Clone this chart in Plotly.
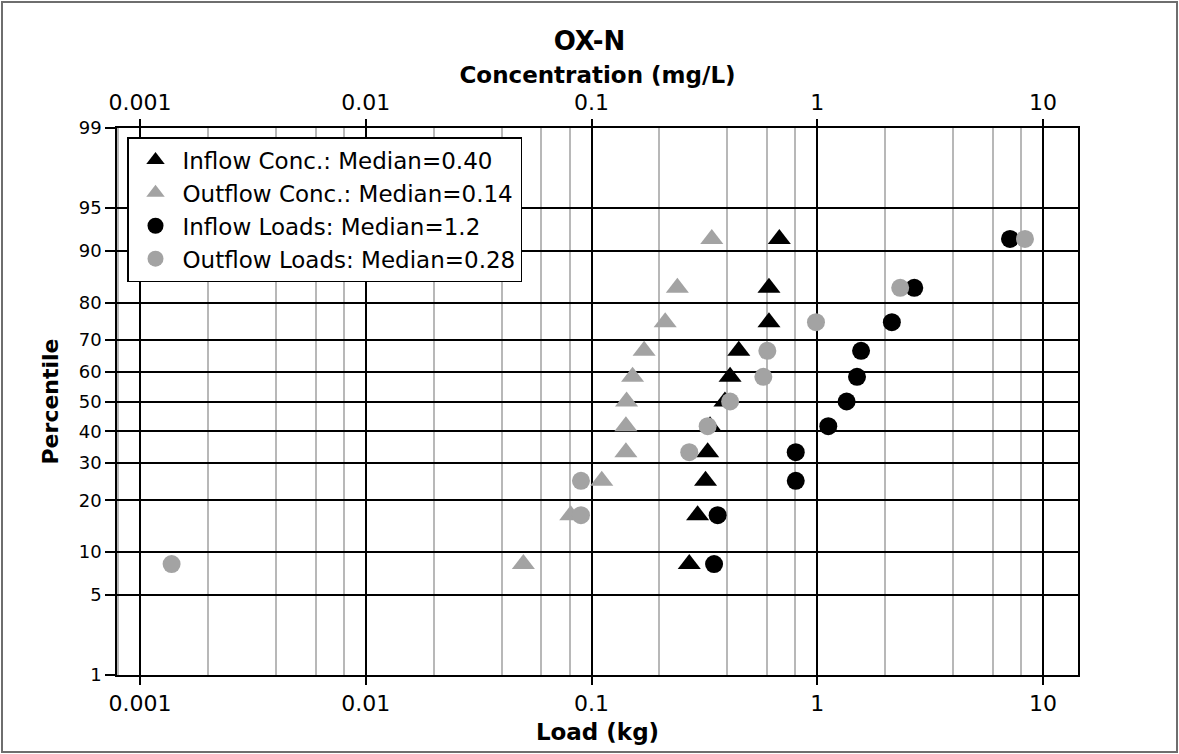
import plotly.graph_objects as go
from statistics import NormalDist

# ---- data ----
percentiles = [8.33, 16.67, 25.0, 33.33, 41.67, 50.0, 58.33, 66.67, 75.0, 83.33, 91.67]
inflow_conc = [0.271, 0.295, 0.320, 0.327, 0.335, 0.390, 0.411, 0.449, 0.611, 0.611, 0.679]
outflow_conc = [0.0499, 0.0809, 0.111, 0.142, 0.142, 0.143, 0.152, 0.171, 0.212, 0.240, 0.341]
inflow_loads = [0.349, 0.362, 0.803, 0.803, 1.119, 1.349, 1.50, 1.563, 2.14, 2.69, 7.14]
outflow_loads = [0.00138, 0.0898, 0.0898, 0.271, 0.327, 0.411, 0.577, 0.601, 0.987, 2.33, 8.32]

series_names = ["Inflow Conc.: Median=0.40", "Outflow Conc.: Median=0.14",
                "Inflow Loads: Median=1.2", "Outflow Loads: Median=0.28"]

pct_ticks = [1, 5, 10, 20, 30, 40, 50, 60, 70, 80, 90, 95, 99]
x_ticks = [0.001, 0.01, 0.1, 1, 10]
x_ticktext = ["0.001", "0.01", "0.1", "1", "10"]

# ---- styling ----
FONT = "DejaVu Sans"
GRAY = "#a3a3a3"
nd = NormalDist()


def probit(p):
    return nd.inv_cdf(p / 100.0)


y_pos = [probit(p) for p in percentiles]
y_tickvals = [probit(p) for p in pct_ticks]
y_range = [probit(1), probit(99)]
x_range = [-3.102, 1.155]

minor_vals = [0.0008]
for dec in [0.001, 0.01, 0.1, 1, 10]:
    for m in (2, 4, 6, 8):
        minor_vals.append(m * dec)

styles = [("triangle-up", "black", 20), ("triangle-up", GRAY, 20),
          ("circle", "black", 18), ("circle", GRAY, 18)]
values = [inflow_conc, outflow_conc, inflow_loads, outflow_loads]

fig = go.Figure()
for name, vals, (sym, col, size) in zip(series_names, values, styles):
    fig.add_trace(go.Scatter(
        x=vals, y=y_pos, mode="markers", name=name,
        marker=dict(symbol=sym, color=col, size=size, line=dict(width=0)),
    ))

# empty trace so the top (concentration) axis is drawn
fig.add_trace(go.Scatter(x=[], y=[], xaxis="x2", yaxis="y", mode="markers",
                         showlegend=False, hoverinfo="skip"))

axis_common = dict(
    type="log", range=x_range, tickvals=x_ticks, ticktext=x_ticktext,
    ticks="outside", ticklen=8, tickwidth=1.5, tickcolor="black",
    tickfont=dict(family=FONT, size=22, color="black"),
)

fig.update_layout(
    width=1179, height=754,
    margin=dict(l=117, r=101, t=128, b=79),
    paper_bgcolor="white", plot_bgcolor="white",
    font=dict(family=FONT, color="black"),
    title=dict(text="<b>OX-N</b>", x=0.5, xanchor="center", xref="container",
               y=1 - 41 / 754, yanchor="middle", yref="container",
               font=dict(family=FONT, size=26, color="black")),
    xaxis=dict(
        **axis_common,
        showline=True, linecolor="black", linewidth=1.5, mirror=True,
        showgrid=True, gridcolor="black", gridwidth=1.6,
        minor=dict(tickvals=minor_vals, showgrid=True, gridcolor="#b8b8b8",
                   gridwidth=1.5, ticks=""),
        title=dict(text="<b>Load (kg)</b>", standoff=9,
                   font=dict(family=FONT, size=23, color="black")),
        zeroline=False,
    ),
    xaxis2=dict(
        **axis_common,
        overlaying="x", side="top", anchor="y", matches="x",
        showgrid=False, showline=False, zeroline=False,
        title=dict(text="<b>Concentration (mg/L)</b>", standoff=0,
                   font=dict(family=FONT, size=23, color="black")),
    ),
    yaxis=dict(
        range=y_range, tickvals=y_tickvals, ticktext=[str(p) for p in pct_ticks],
        ticks="outside", ticklen=10, tickwidth=1.5, tickcolor="black",
        tickfont=dict(family=FONT, size=18, color="black"),
        showline=True, linecolor="black", linewidth=1.5, mirror=True,
        showgrid=True, gridcolor="black", gridwidth=1.6, zeroline=False,
        title=dict(text="<b>Percentile</b>", standoff=14,
                   font=dict(family=FONT, size=22, color="black")),
    ),
    legend=dict(
        x=(127 - 117) / 961, y=(675 - 137) / 547, xanchor="left", yanchor="top",
        bgcolor="white", bordercolor="black", borderwidth=1.5,
        font=dict(family=FONT, size=23, color="black"),
        itemwidth=44, tracegroupgap=0,
    ),
    showlegend=True,
    shapes=[dict(type="rect", xref="paper", yref="paper",
                 x0=(2 - 117) / 961, x1=(1177 - 117) / 961,
                 y0=(675 - 752) / 547, y1=(675 - 2) / 547,
                 line=dict(color="#6e6e6e", width=2), fillcolor="rgba(0,0,0,0)",
                 layer="below")],
)

fig.write_html(
    "out.html",
    config={"displayModeBar": False},
    post_script="document.body.style.margin='0px';document.body.style.padding='0px';",
)
